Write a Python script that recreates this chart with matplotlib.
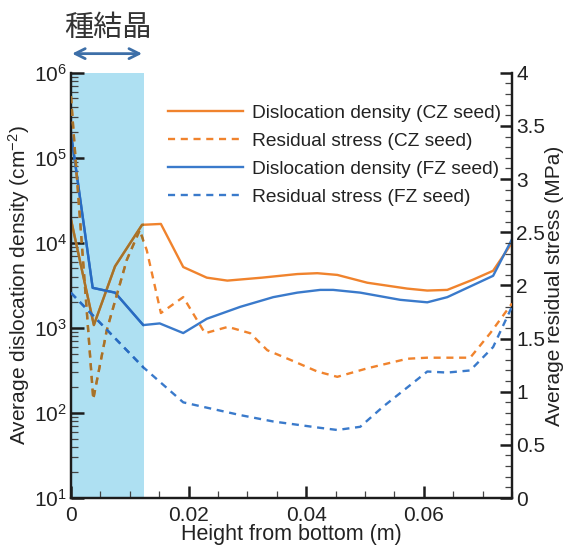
import numpy as np
import matplotlib
matplotlib.use('Agg')
from matplotlib import pyplot as plt
from matplotlib.ticker import MultipleLocator, LogLocator
from matplotlib.patches import Rectangle
from matplotlib.colors import to_rgb

plt.rcParams['font.family'] = ['Liberation Sans', 'Noto Sans CJK JP', 'DejaVu Sans']
plt.rcParams['mathtext.default'] = 'regular'

# data
seed_end = 0.0125

x_cz_dd = [0, 0.0039, 0.0075, 0.0121, 0.0153, 0.0191, 0.0231, 0.0266, 0.0325, 0.0385,
           0.0419, 0.0453, 0.0504, 0.0572, 0.0606, 0.064, 0.0684, 0.0718, 0.075]
cz_dd = [1.9e4, 1.08e3, 5.3e3, 1.63e4, 1.67e4, 5.2e3, 3.9e3, 3.6e3, 3.9e3, 4.3e3,
         4.4e3, 4.2e3, 3.4e3, 2.9e3, 2.75e3, 2.8e3, 3.7e3, 4.7e3, 1.0e4]

x_fz_dd = [0, 0.0037, 0.0075, 0.0123, 0.0151, 0.0191, 0.0231, 0.0288, 0.0344, 0.0385,
           0.0424, 0.0446, 0.0492, 0.056, 0.0606, 0.064, 0.0718, 0.075]
fz_dd = [1.96e5, 2.96e3, 2.6e3, 1.08e3, 1.13e3, 870, 1.28e3, 1.77e3, 2.3e3, 2.6e3,
         2.8e3, 2.8e3, 2.6e3, 2.14e3, 2.0e3, 2.3e3, 4.1e3, 1.1e4]

x_cz_rs = [0, 0.0038, 0.0061, 0.0095, 0.0117, 0.0129, 0.0153, 0.0191, 0.0228, 0.0267,
           0.0305, 0.0334, 0.0373, 0.0419, 0.0453, 0.0504, 0.0572, 0.0606, 0.0679, 0.0713, 0.075]
cz_rs = [3.78, 0.93, 1.58, 2.24, 2.52, 2.33, 1.74, 1.89, 1.55, 1.61,
         1.55, 1.39, 1.30, 1.19, 1.14, 1.22, 1.31, 1.32, 1.32, 1.55, 1.83]

x_fz_rs = [0, 0.0037, 0.0123, 0.0191, 0.0231, 0.0288, 0.0344, 0.0424, 0.0453, 0.0492,
           0.0531, 0.0572, 0.0606, 0.064, 0.0679, 0.0718, 0.075]
fz_rs = [1.93, 1.72, 1.23, 0.90, 0.85, 0.78, 0.72, 0.66, 0.64, 0.67,
         0.86, 1.04, 1.19, 1.18, 1.20, 1.42, 1.80]

labels = ['Dislocation density (CZ seed)', 'Residual stress (CZ seed)',
          'Dislocation density (FZ seed)', 'Residual stress (FZ seed)']

orange = '#F0832D'
blue = '#3A7ACB'
shade = '#AEE0F2'


def multiply(c1, c2):
	# colour of a line seen through the seed shading
	a = np.array(to_rgb(c1))
	b = np.array(to_rgb(c2))
	return tuple(a * b)


fig = plt.figure(figsize=(5.72, 5.48), dpi=100)
ax = fig.add_axes([0.124, 0.0912, 0.771, 0.776])
ax2 = ax.twinx()

ax.axvspan(0, seed_end, color=shade, zorder=0, lw=0)

dash = (0, (3, 2.4))
series = [
	(ax, x_cz_dd, cz_dd, orange, '-'),
	(ax2, x_cz_rs, cz_rs, orange, dash),
	(ax, x_fz_dd, fz_dd, blue, '-'),
	(ax2, x_fz_rs, fz_rs, blue, dash),
]

handles = []
for (a, xs, ys, col, ls), lab in zip(series, labels):
	h, = a.plot(xs, ys, color=col, ls=ls, lw=1.7, label=lab, zorder=3)
	handles.append(h)
	# tinted copy inside the shaded part
	inner, = a.plot(xs, ys, color=multiply(col, shade), ls=ls, lw=1.7, zorder=4)
	rect = Rectangle((0, 0), seed_end, 1, transform=a.get_xaxis_transform())
	inner.set_clip_path(rect)

ax.set_yscale('log')
ax.set_ylim(10, 1e6)
ax.set_xlim(0, 0.075)
ax2.set_ylim(0, 4)
ax2.patch.set_visible(False)

ax.yaxis.set_major_locator(LogLocator(base=10, numticks=10))
ax.yaxis.set_minor_locator(LogLocator(base=10, subs=np.arange(2, 10), numticks=20))
ax.xaxis.set_minor_locator(MultipleLocator(0.005))
ax.set_xticks([0, 0.02, 0.04, 0.06])
ax.set_xticklabels(['0', '0.02', '0.04', '0.06'])
ax2.yaxis.set_minor_locator(MultipleLocator(0.1))
ax2.set_yticks([0, 0.5, 1, 1.5, 2, 2.5, 3, 3.5, 4])
ax2.set_yticklabels(['0', '0.5', '1', '1.5', '2', '2.5', '3', '3.5', '4'])

for a in (ax, ax2):
	a.spines['top'].set_visible(False)
	for s in a.spines.values():
		s.set_linewidth(1.6)
		s.set_color('#1c1c1c')
	a.tick_params(which='major', direction='in', length=9, width=1.8, labelsize=15, colors='#1c1c1c')
	a.tick_params(which='minor', direction='in', length=5, width=0.9, colors='#444444')
	a.tick_params(axis='both', labelcolor='#222222')
ax.tick_params(axis='x', which='major', pad=6)
ax.tick_params(axis='y', which='major', pad=3)
ax2.tick_params(axis='y', which='major', pad=3)

ax.set_xlabel('Height from bottom (m)', fontsize=15.5, color='#222222', labelpad=-1)
ax.set_ylabel('Average dislocation density (cm$^{-2}$)', fontsize=15, color='#222222', labelpad=1)
ax2.set_ylabel('Average residual stress (MPa)', fontsize=15, color='#222222', labelpad=0)

leg = ax2.legend(handles=handles, loc='upper right', bbox_to_anchor=(1.0, 0.95),
                 frameon=False, fontsize=13.8, handlelength=3.9, handletextpad=0.5,
                 labelspacing=0.55, borderaxespad=0.15)
for t in leg.get_texts():
	t.set_color('#222222')

# seed crystal marker above the axes
trans = ax.get_xaxis_transform()
ax.annotate('', xy=(0.0002, 1.045), xytext=(seed_end - 0.0004, 1.045), xycoords=trans,
            textcoords=trans, annotation_clip=False,
            arrowprops=dict(arrowstyle='<->', color='#3D6FA8', lw=2.0,
                            mutation_scale=18, shrinkA=0, shrinkB=0))
ax.text(seed_end / 2, 1.105, '種結晶', transform=trans, ha='center', va='center',
        fontsize=21, color='#333333', family=['Noto Sans CJK JP', 'DejaVu Sans'])

fig.savefig('out.png', dpi=100)
